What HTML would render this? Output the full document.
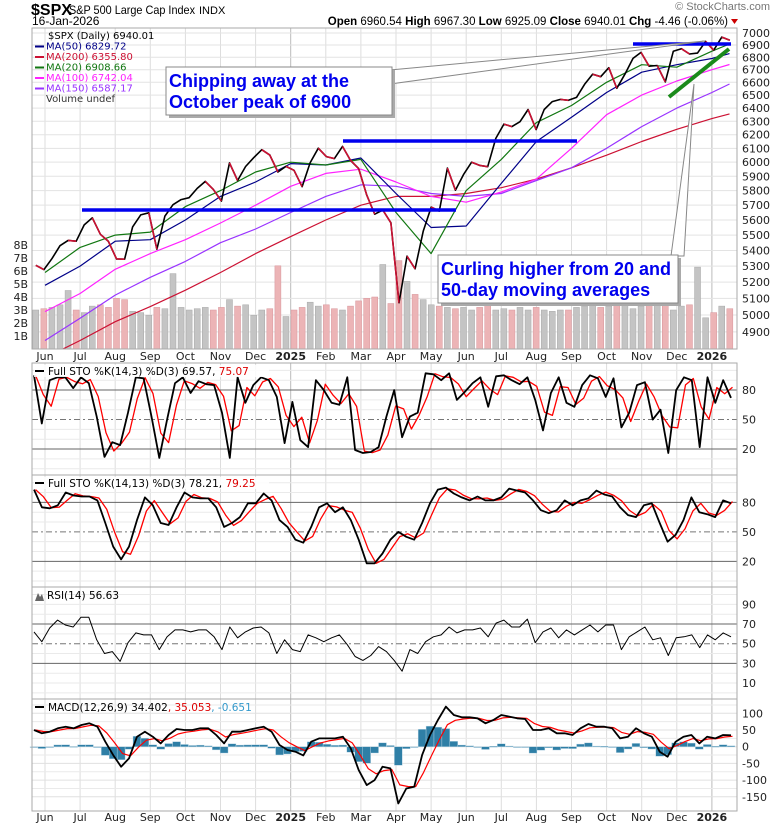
<!DOCTYPE html>
<html><head><meta charset="utf-8">
<style>
html,body{margin:0;padding:0;background:#fff;}
svg{display:block;font-family:"DejaVu Sans","Liberation Sans",sans-serif;}
</style></head>
<body>
<svg id="chart" width="780" height="828" viewBox="0 0 780 828" xmlns="http://www.w3.org/2000/svg">
  <rect x="0" y="0" width="780" height="828" fill="#fff"/>
  <g>
    <text x="31" y="15" font-family="Liberation Sans, sans-serif" font-size="16" font-weight="bold" fill="#000">$SPX</text>
    <text x="69" y="14" font-family="Liberation Sans, sans-serif" font-size="12" textLength="126" lengthAdjust="spacingAndGlyphs" fill="#000">S&amp;P 500 Large Cap Index</text>
    <text x="199" y="14" font-family="Liberation Sans, sans-serif" font-size="11" fill="#000">INDX</text>
    <text x="32" y="25" font-family="Liberation Sans, sans-serif" font-size="12" fill="#000">16-Jan-2026</text>
    <text x="728" y="25" text-anchor="end" font-family="Liberation Sans, sans-serif" font-size="11.5" fill="#000"><tspan font-weight="bold">Open</tspan> 6960.54 <tspan font-weight="bold">High</tspan> 6967.30 <tspan font-weight="bold">Low</tspan> 6925.09 <tspan font-weight="bold">Close</tspan> 6940.01 <tspan font-weight="bold">Chg</tspan> -4.46 (-0.06%)</text>
    <polygon points="731,19 738,19 734.5,24" fill="#c00"/>
    <text x="770" y="10" text-anchor="end" font-family="Liberation Sans, sans-serif" font-size="11" fill="#777">© StockCharts.com</text>
  </g>
  <g id="layers"></g>
</svg>
<script>
// ---------- DATA ----------
const weekCloses = [5305,5278,5347,5431,5465,5460,5567,5615,5505,5459,5346,5344,5554,5634,5648,5408,5626,5703,5738,5751,5815,5864,5808,5728,5995,5870,5969,6032,6090,6051,5930,5970,5942,5827,5997,6101,6040,6026,6114,6013,5955,5770,5639,5667,5581,5074,5363,5283,5525,5687,5660,5958,5803,5912,6000,5977,5968,6173,6279,6260,6297,6389,6238,6389,6450,6467,6460,6482,6584,6664,6644,6716,6553,6664,6791,6840,6728,6734,6603,6849,6870,6827,6834,6930,6858,6966,6940];
const weekVolumes = [3.0,3.1,3.2,3.4,4.5,3.0,2.8,3.3,3.4,3.2,3.9,3.8,2.9,2.8,2.6,3.2,3.1,5.8,3.2,3.0,3.1,3.2,3.0,3.2,3.8,3.3,3.4,2.6,3.0,3.1,6.4,2.5,3.0,3.2,3.6,3.3,3.4,3.1,3.0,3.3,3.7,3.9,4.0,6.5,3.5,6.8,5.2,4.2,3.8,3.4,3.3,3.2,3.1,3.2,3.0,3.2,5.6,3.0,3.1,3.0,3.2,3.0,3.2,3.0,2.9,3.0,3.0,3.2,3.3,5.8,3.2,3.3,3.4,3.5,3.1,3.3,3.5,3.6,3.4,3.0,3.3,3.4,6.3,2.4,2.8,3.3,3.1];
const maMonths = [0,1,2,3,4,5,6,7,8,9,10,11,12,13,14,15,16,17,18,19,19.5];
const ma20 = [5260,5420,5500,5520,5690,5800,5930,6000,5980,6020,5650,5380,5800,6020,6290,6420,6600,6740,6720,6850,6909];
const ma50 = [5180,5300,5460,5470,5600,5760,5860,5990,5980,6030,5780,5550,5560,5850,6150,6330,6520,6680,6740,6790,6830];
const ma100 = [5020,5130,5280,5380,5470,5580,5700,5830,5920,5950,5860,5760,5720,5790,5880,6100,6350,6500,6610,6700,6742];
const ma150 = [4850,4980,5120,5230,5330,5450,5540,5650,5760,5840,5830,5780,5760,5780,5870,5960,6100,6260,6400,6520,6587];
const ma200 = [4750,4850,4960,5050,5150,5260,5380,5490,5600,5700,5760,5760,5780,5820,5880,5960,6050,6150,6240,6320,6356];
const sto1K = [95,46,90,93,93,82,93,87,53,12,27,24,57,93,92,53,11,50,87,93,77,89,86,85,57,11,93,67,85,93,90,73,26,68,29,22,90,80,67,65,93,19,16,17,22,53,80,32,53,57,97,96,90,97,70,78,87,93,63,94,95,90,86,93,70,39,77,93,67,63,85,95,92,73,92,42,57,85,88,50,60,16,80,93,90,22,93,67,90,72];
const sto2K = [93,75,74,77,90,87,86,86,82,59,35,22,35,62,85,77,59,57,75,90,85,84,84,75,55,59,65,79,79,89,82,62,55,42,39,55,75,79,70,75,62,42,18,18,28,42,50,45,42,59,79,93,95,89,85,82,86,82,82,85,94,92,90,82,72,69,72,82,77,82,84,92,88,86,75,67,65,77,79,59,40,47,62,85,70,68,65,82,79];
const rsiVals = [62,52,66,74,69,67,77,77,54,40,42,32,51,61,59,59,44,57,64,64,62,64,64,57,44,67,56,62,66,67,61,40,54,44,42,59,56,52,56,59,49,37,33,38,47,42,33,22,44,40,52,57,59,67,61,64,64,66,57,71,74,67,67,75,51,62,66,56,64,59,64,69,62,69,69,44,57,62,67,54,56,38,56,57,59,46,59,54,61,57];
const macdVals = [50,40,45,55,60,55,65,70,60,15,-25,-60,-35,30,45,30,10,35,53,50,50,55,55,35,10,45,45,50,55,60,45,5,-10,-15,-26,15,25,25,25,30,-5,-70,-115,-100,-60,-65,-170,-125,-120,-25,35,80,120,95,88,88,85,70,80,95,90,85,83,50,50,55,40,40,35,55,68,60,60,55,25,30,55,40,30,-15,-30,15,30,35,10,30,25,35,34];
const priceTicks = [7000,6900,6800,6700,6600,6500,6400,6300,6200,6100,6000,5900,5800,5700,5600,5500,5400,5300,5200,5100,5000,4900];
const volTicks = [8,7,6,5,4,3,2,1];
const monthLabels = ["Jun","Jul","Aug","Sep","Oct","Nov","Dec","2025","Feb","Mar","Apr","May","Jun","Jul","Aug","Sep","Oct","Nov","Dec","2026"];
const stoTicks = [80,50,20];
const rsiTicks = [90,70,50,30,10];
const macdTicks = [100,50,0,-50,-100,-150];

// ---------- HELPERS ----------
const NS = "http://www.w3.org/2000/svg";
const root = document.getElementById('layers');
function mk(tag, attrs, parent){ const e=document.createElementNS(NS,tag); for(const k in attrs) e.setAttribute(k,attrs[k]); (parent||root).appendChild(e); return e; }
const X0=32, X1=737;
const monthX = m => 45 + m*35.1;
const weekX = i => 35.8 + i*8.07;
const idxX = (i,n) => 34 + i*(731-34)/(n-1);
const priceY = p => 33 + 838*Math.log(7000/p);
const volY = v => 349 - v*13;
const P = {main:[28,349], sto1:[363,475], sto2:[475,587], rsi:[587,699], macd:[699,811]};
const sto1Y = v => 468.7 - v*0.983;
const sto2Y = v => 581 - v*0.983;
const rsiY = v => 643.7 - (v-50)*0.983;
const macdY = v => 746.7 - v*0.334;

function panelFrame(name,y0,y1){
  const g=mk('g',{});
  
  
  for(let m=0;m<20;m++){
    const l=mk('line',{x1:monthX(m),x2:monthX(m),y1:y0,y2:y1,stroke:(m===7||m===19)?'#bbb':'#ddd','stroke-width':1},g);
    
    
  }
  return g;
}
function hline(g,y,color,dash,name){
  const l=mk('line',{x1:X0,x2:X1,y1:y,y2:y,stroke:color,'stroke-width':1},g);
  if(dash) l.setAttribute('stroke-dasharray',dash);
  
  
}
function border(g,y0,y1,name){
  const r=mk('rect',{x:X0,y:y0,width:X1-X0,height:y1-y0,fill:'none',stroke:'#aaa','stroke-width':1},g);
  
  
}
function rlabel(g,y,txt,name){
  const t=mk('text',{x:742,y:y+4,'font-size':11,fill:'#222'},g);
  t.textContent=txt;
  
  
}
function poly(g,pts,color,w,name){
  const p=mk('polyline',{points:pts.map(q=>q[0].toFixed(1)+','+q[1].toFixed(1)).join(' '),fill:'none',stroke:color,'stroke-width':w,'stroke-linejoin':'round'},g);
  
  
  return p;
}
function lag(arr){ return arr.map((v,i)=> i===0?v:(arr[i-1]*0.6+v*0.4)); }

// ---------- MAIN PANEL ----------
{
  const g=panelFrame('price',P.main[0],P.main[1]);
  priceTicks.forEach(p=>{ hline(g,priceY(p),'#e3e3e3',null,'price-gridline'); rlabel(g,priceY(p),String(p),'price-tick-label'); });
  weekVolumes.forEach((v,i)=>{
    const up = i===0 || weekCloses[i]>=weekCloses[i-1];
    const r=mk('rect',{x:weekX(i)-3,y:volY(v),width:6,height:349-volY(v),fill:up?'#c4c4c4':'#ecb4b6',stroke:up?'#a8a8a8':'#d8959b','stroke-width':0.5},g);
    
    
  });
  volTicks.forEach(v=>{
    const t=mk('text',{x:28,y:volY(v)+4,'font-size':11,'text-anchor':'end',fill:'#222'},g);
    t.textContent=v+'B';
    
    
  });
  const clip=mk('clipPath',{id:'mainclip'},g);
  mk('rect',{x:X0,y:P.main[0],width:X1-X0,height:P.main[1]-P.main[0]},clip);
  const cg=mk('g',{'clip-path':'url(#mainclip)'},g);
  const maDefs=[[ma200,'#cc1133','ma200-line'],[ma150,'#9933ff','ma150-line'],[ma100,'#ff22ff','ma100-line'],[ma50,'#000088','ma50-line'],[ma20,'#117711','ma20-line']];
  maDefs.forEach(d=>poly(cg,d[0].map((v,i)=>[monthX(maMonths[i]),priceY(v)]),d[1],1.2,d[2]));
  poly(cg,weekCloses.map((v,i)=>[weekX(i),priceY(v)]),'#000',1.6,'price-line');
  weekCloses.forEach((v,i)=>{
    if(i>0 && v<weekCloses[i-1]){
      const s=mk('line',{x1:weekX(i-1),y1:priceY(weekCloses[i-1]),x2:weekX(i),y2:priceY(v),stroke:'#cc1133','stroke-width':1.6},cg);
      
      
    }
  });
  border(g,P.main[0],P.main[1],'price');
  const leg=[['$SPX (Daily) 6940.01','#000'],['MA(50) 6829.72','#000088'],['MA(200) 6355.80','#cc1133'],['MA(20) 6908.66','#117711'],['MA(100) 6742.04','#ff22ff'],['MA(150) 6587.17','#9933ff'],['Volume undef','#333']];
  leg.forEach((l,i)=>{
    const y=39+i*10.5;
    if(i>0 && i<6){ const s=mk('rect',{x:35,y:y-4,width:9,height:2,fill:l[1]},g);   }
    const t=mk('text',{x:i===0?48:46,y:y,'font-size':10,fill:l[1]},g);
    t.textContent=l[0];
    
    
  });
}
function monthAxis(y,name){
  monthLabels.forEach((m,i)=>{
    const t=mk('text',{x:monthX(i),y:y,'font-size':11,'text-anchor':'middle',fill:'#222','font-weight':(m==='2025'||m==='2026')?'bold':'normal'});
    t.textContent=m;
    
    
  });
}
monthAxis(360,'x-axis-month-label');
monthAxis(821,'x-axis-month-label-bottom');

// ---------- STO PANELS ----------
function stoPanel(key,arr,yf,title,kv,dv){
  const g=panelFrame(key,P[key][0],P[key][1]);
  for(let v=0;v<=100;v+=10){ if(v!==20&&v!==50&&v!==80) hline(g,yf(v),'#eaeaea',null,'sto-minor-gridline'); }
  hline(g,yf(80),'#666',null,'overbought-line'); hline(g,yf(20),'#666',null,'oversold-line'); hline(g,yf(50),'#777','6,3,2,3','midline');
  stoTicks.forEach(t=>rlabel(g,yf(t),String(t),'sto-tick-label'));
  const n=arr.length;
  poly(g,lag(arr).map((v,i)=>[idxX(i,n)+1.5,yf(v)]),'#ff0000',1.3,'percent-d-line');
  poly(g,arr.map((v,i)=>[idxX(i,n),yf(v)]),'#000',1.8,'percent-k-line');
  border(g,P[key][0],P[key][1],key);
  const bg=mk('rect',{x:34,y:P[key][0]+2,width:235,height:12,fill:'#fff','fill-opacity':0.85},g);
   
  mk('rect',{x:35,y:P[key][0]+7,width:9,height:2,fill:'#000'},g);
  const t=mk('text',{x:48,y:P[key][0]+12,'font-size':10.5,fill:'#000'},g);
  t.innerHTML=title+' '+kv+', <tspan fill="#d00">'+dv+'</tspan>';
  
  
}
stoPanel('sto1',sto1K,sto1Y,'Full STO %K(14,3) %D(3)','69.57','75.07');
stoPanel('sto2',sto2K,sto2Y,'Full STO %K(14,13) %D(3)','78.21','79.25');

// ---------- RSI ----------
{
  const g=panelFrame('rsi',P.rsi[0],P.rsi[1]);
  for(let v=0;v<=100;v+=10){ if(v!==30&&v!==50&&v!==70) hline(g,rsiY(v),'#eaeaea',null,'rsi-minor-gridline'); }
  hline(g,rsiY(70),'#666',null,'rsi-70-line'); hline(g,rsiY(30),'#666',null,'rsi-30-line'); hline(g,rsiY(50),'#777','6,3,2,3','rsi-50-line');
  rsiTicks.forEach(t=>rlabel(g,rsiY(t),String(t),'rsi-tick-label'));
  const n=rsiVals.length;
  poly(g,rsiVals.map((v,i)=>[idxX(i,n),rsiY(v)]),'#000',1,'rsi-line');
  border(g,P.rsi[0],P.rsi[1],'rsi');
  mk('polygon',{points:'35,601 38,593 40,597 42,594 44,601',fill:'#666'},g);
  const t=mk('text',{x:47,y:P.rsi[0]+12,'font-size':10.5,fill:'#000'},g);
  t.textContent='RSI(14) 56.63';
  
  
}

// ---------- MACD ----------
{
  const g=panelFrame('macd',P.macd[0],P.macd[1]);
  [125,75,25,-25,-75,-125].forEach(v=>hline(g,macdY(v),'#eaeaea',null,'macd-minor-gridline'));
  macdTicks.forEach(v=>{ hline(g,macdY(v),'#e0e0e0',null,'macd-gridline'); rlabel(g,macdY(v),String(v),'macd-tick-label'); });
  const n=macdVals.length;
  const sig=[]; macdVals.forEach((v,i)=>sig.push(i===0?v:sig[i-1]*0.55+v*0.45));
  const w=(731-34)/(n-1);
  macdVals.forEach((v,i)=>{
    const h=v-sig[i];
    const y0=macdY(0), y1=macdY(h);
    const r=mk('rect',{x:idxX(i,n)-w/2,y:Math.min(y0,y1),width:w,height:Math.max(0.8,Math.abs(y1-y0)),fill:'#2f7fa6',stroke:'#bcd7e6','stroke-width':0.4},g);
    
    
  });
  poly(g,sig.map((v,i)=>[idxX(i,n)+1.5,macdY(v)]),'#ff0000',1.2,'macd-signal-line');
  poly(g,macdVals.map((v,i)=>[idxX(i,n),macdY(v)]),'#000',1.8,'macd-line');
  border(g,P.macd[0],P.macd[1],'macd');
  mk('rect',{x:35,y:P.macd[0]+7,width:9,height:2,fill:'#000'},g);
  const t=mk('text',{x:48,y:P.macd[0]+12,'font-size':10.5,fill:'#000'},g);
  t.innerHTML='MACD(12,26,9) 34.402<tspan fill="#d00">, 35.053</tspan><tspan fill="#3399cc">, -0.651</tspan>';
  
  
}

// ---------- ANNOTATIONS ----------
{
  const g=mk('g',{});
  
  
  const lines=[[82,210,456,210,'support-line-6650'],[343,141,577,141,'resistance-line-feb-peak'],[633,44,731,44,'october-peak-line']];
  lines.forEach(l=>{ const e=mk('line',{x1:l[0],y1:l[1],x2:l[2],y2:l[3],stroke:'#0000ee','stroke-width':3.5},g);   });
  const gl=mk('line',{x1:669,y1:97,x2:729,y2:49,stroke:'#1a8a1a','stroke-width':4},g);
   
  const p1=mk('polygon',{points:'390,70 705,41 390,84',fill:'#fff',stroke:'#888','stroke-width':1},g);
   
  mk('rect',{x:169,y:70,width:226,height:48,fill:'#aaa'},g);
  const b1=mk('rect',{x:166,y:67,width:226,height:48,fill:'#fff',stroke:'#888','stroke-width':1},g);
   
  const t1=mk('text',{x:169,y:87,'font-family':'Liberation Sans, sans-serif','font-size':18,'font-weight':'bold',fill:'#0000ee'},g);
  t1.innerHTML='<tspan x="169">Chipping away at the</tspan><tspan x="169" dy="21">October peak of 6900</tspan>';
   
  const p2=mk('polygon',{points:'671,256 694,84 684,256',fill:'#fff',stroke:'#888','stroke-width':1},g);
   
  mk('rect',{x:441,y:258,width:240,height:48,fill:'#aaa'},g);
  const b2=mk('rect',{x:438,y:255,width:240,height:48,fill:'#fff',stroke:'#888','stroke-width':1},g);
   
  const t2=mk('text',{x:441,y:275,'font-family':'Liberation Sans, sans-serif','font-size':18,'font-weight':'bold',fill:'#0000ee'},g);
  t2.innerHTML='<tspan x="441">Curling higher from 20 and</tspan><tspan x="441" dy="21">50-day moving averages</tspan>';
   
}
</script>
</body></html>
